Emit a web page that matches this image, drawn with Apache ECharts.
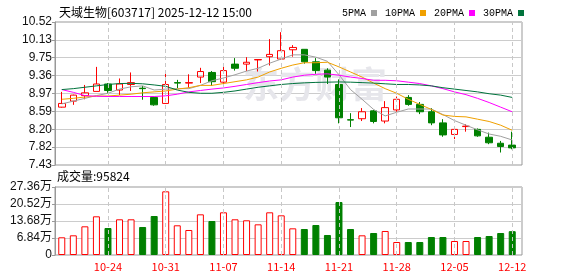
<!DOCTYPE html>
<html><head><meta charset="utf-8">
<script src="https://cdn.jsdelivr.net/npm/echarts@6/dist/echarts.min.js"></script>
<style>html,body{margin:0;padding:0;background:#fff}#c{width:578px;height:276px}</style>
</head><body><div id="c"></div>
<script>
const dates = ['10-20','10-21','10-22','10-23','10-24','10-27','10-28','10-29','10-30','10-31',
  '11-03','11-04','11-05','11-06','11-07','11-10','11-11','11-12','11-13','11-14',
  '11-17','11-18','11-19','11-20','11-21','11-24','11-25','11-26','11-27','11-28',
  '12-01','12-02','12-03','12-04','12-05','12-08','12-09','12-10','12-11','12-12'];
const opens  = [8.68,8.81,8.93,9.02,9.18,9.05,9.17,9.09,8.89,8.76, 9.21,9.20,9.33,9.43,9.22,9.61,9.61,9.70,9.77,9.72,
                9.92,9.93,9.66,9.48,9.17,8.41,8.43,8.60,8.38,8.62, 8.89,8.74,8.58,8.34,8.09,8.26,8.20,8.03,7.90,7.86];
const closes = [8.76,8.94,8.99,9.18,9.04,9.18,9.21,9.08,8.73,9.17, 9.20,9.21,9.45,9.23,9.47,9.52,9.65,9.71,9.82,9.90,
                9.97,9.66,9.47,9.33,8.45,8.40,8.58,8.37,8.67,8.85, 8.74,8.58,8.34,8.08,8.20,8.27,8.06,7.91,7.83,7.80];
const lows   = [8.67,8.73,8.85,9.02,8.99,8.94,9.03,8.84,8.71,8.76, 9.09,9.10,9.20,9.14,9.17,9.47,9.46,9.45,9.58,9.70,
                9.77,9.62,9.40,9.18,8.33,8.25,8.38,8.33,8.33,8.58, 8.71,8.53,8.29,8.04,7.99,8.15,8.04,7.88,7.70,7.77];
const highs  = [9.01,8.95,9.16,9.55,9.20,9.30,9.43,9.14,8.91,9.47, 9.27,9.39,9.53,9.46,9.59,9.74,9.76,9.72,10.15,10.30,
                10.02,9.93,9.74,9.52,9.28,8.55,8.66,8.62,8.81,8.91, 8.94,8.79,8.66,8.42,8.22,8.31,8.22,8.13,7.95,8.15];
const volumes = [71200,79200,115400,155600,108600,143600,143600,112700,156900,256200,
                 119500,100600,163600,136800,171700,143600,139600,123400,171700,159600,
                 107300,104600,120700,80500,213200,104600,79200,88500,96600,52300,
                 52300,52300,72400,72400,56300,56300,72400,76400,88500,95824];
const ma5  = [8.75,8.81,8.87,8.93,8.98,9.07,9.12,9.14,9.05,9.07, 9.08,9.08,9.15,9.25,9.31,9.38,9.46,9.52,9.63,9.72,
              9.81,9.81,9.76,9.67,9.38,9.06,8.85,8.63,8.49,8.57, 8.64,8.64,8.64,8.52,8.39,8.29,8.19,8.10,8.05,7.97];
const ma10 = [8.85,8.87,8.90,8.92,8.92,8.94,8.96,8.99,9.01,9.03, 9.07,9.10,9.15,9.15,9.19,9.23,9.27,9.33,9.44,9.52,
              9.59,9.64,9.64,9.65,9.55,9.44,9.33,9.20,9.08,8.98, 8.85,8.74,8.63,8.51,8.48,8.47,8.42,8.37,8.29,8.18];
const ma20 = [9.06,9.00,8.93,8.915,8.91,8.91,8.91,8.91,8.91,8.925, 8.96,9.01,9.04,9.07,9.095,9.13,9.17,9.21,9.245,9.27,
              9.33,9.37,9.39,9.40,9.37,9.33,9.30,9.26,9.26,9.25, 9.22,9.19,9.14,9.08,9.01,8.95,8.87,8.78,8.68,8.58];
const ma30 = [9.06,9.08,9.11,9.14,9.17,9.19,9.195,9.185,9.16,9.13, 9.05,9.00,8.98,8.98,9.00,9.03,9.07,9.11,9.14,9.17,
              9.19,9.205,9.215,9.22,9.225,9.22,9.21,9.20,9.185,9.17, 9.17,9.16,9.14,9.10,9.07,9.04,9.01,8.97,8.94,8.89];
const priceTicks = ['7.43','7.82','8.20','8.59','8.97','9.36','9.75','10.13','10.52'];
const volumeTicks = ['0','6.84万','13.68万','20.52万','27.36万'];
const labelDates = ['10-24','10-31','11-07','11-14','11-21','11-28','12-05','12-12'];
const maNames = ['5PMA','10PMA','20PMA','30PMA'];
const titleText = '天域生物[603717] 2025-12-12 15:00';
const volumeTitle = '成交量';

const pMin = 7.43, pMax = 10.52, pInt = (pMax - pMin) / 8;
const vMax = 273600, vInt = vMax / 4;
const RED = '#ff0000', GREEN = '#008000';
const maColors = ['#a0a0a0', '#f0a000', '#ff00ff', '#00733c'];
const maData = [ma5, ma10, ma20, ma30];

const chart = echarts.init(document.getElementById('c'), null, {renderer: 'canvas'});
const candleData = dates.map((d, i) => [opens[i], closes[i], lows[i], highs[i]]);
const volData = volumes.map((v, i) => {
  const up = i === 0 ? closes[i] >= opens[i] : closes[i] >= closes[i - 1];
  return {value: v, itemStyle: up ? {color: '#ffffff', borderColor: RED, borderWidth: 1} : {color: GREEN, borderColor: GREEN, borderWidth: 1}};
});
const vLines = {
  symbol: ['none', 'none'], silent: true, animation: false,
  label: {show: false},
  lineStyle: {color: '#c8c8c8', type: [4, 3], width: 1},
  emphasis: {disabled: true},
  data: labelDates.map(d => ({xAxis: d}))
};
const axisFont = '"Liberation Sans", "Noto Sans CJK SC", sans-serif';

chart.setOption({
  animation: false,
  backgroundColor: '#ffffff',
  title: {
    text: titleText, left: 54, top: 1,
    textStyle: {fontSize: 12, fontWeight: 'normal', color: '#000', fontFamily: '"Noto Sans CJK SC", sans-serif'}
  },
  legend: {
    data: maNames, left: 337, top: 3, icon: 'rect', itemWidth: 6, itemHeight: 6, itemGap: 8,
    align: 'right', selectedMode: false,
    textStyle: {fontSize: 10, color: '#000', fontFamily: '"Liberation Mono", monospace'}
  },
  graphic: [
    {type: 'text', left: 243, top: 66, z: 1, silent: true,
     style: {text: '东方财富', font: 'bold 36px "Noto Sans CJK SC"', fill: '#e6e6eb'}},
    {type: 'text', left: 57, top: 170, silent: true,
     style: {text: volumeTitle + ':' + volumes[volumes.length - 1], font: '12px "Noto Sans CJK SC"', fill: '#000'}}
  ],
  grid: [
    {left: 56, top: 22, width: 462, height: 143},
    {left: 56, top: 187, width: 462, height: 68},
    {left: 55, top: 22, width: 467, height: 143, show: true, borderColor: '#999', borderWidth: 1, backgroundColor: 'transparent'},
    {left: 55, top: 187, width: 467, height: 68, show: true, borderColor: '#999', borderWidth: 1, backgroundColor: 'transparent'}
  ],
  xAxis: [
    {type: 'category', gridIndex: 0, data: dates, boundaryGap: true,
     axisLine: {show: false}, axisTick: {show: false}, axisLabel: {show: false}, splitLine: {show: false}},
    {type: 'category', gridIndex: 1, data: dates, boundaryGap: true,
     axisLine: {show: false}, axisTick: {show: false}, splitLine: {show: false},
     axisLabel: {interval: (i) => labelDates.indexOf(dates[i]) >= 0, color: RED, fontSize: 11, margin: 6,
                 fontFamily: '"Noto Sans CJK SC", sans-serif'}},
    {type: 'value', gridIndex: 2, min: 0, max: 1, show: false},
    {type: 'value', gridIndex: 3, min: 0, max: 1, show: false}
  ],
  yAxis: [
    {type: 'value', gridIndex: 0, min: pMin, max: pMax, show: false, splitLine: {show: false}},
    {type: 'value', gridIndex: 1, min: 0, max: vMax, show: false, splitLine: {show: false}},
    {type: 'value', gridIndex: 2, min: pMin, max: pMax, interval: pInt,
     axisLine: {show: true, lineStyle: {color: '#999'}},
     axisTick: {show: true, length: 3, lineStyle: {color: '#999'}},
     splitLine: {show: true, lineStyle: {color: '#cccccc', width: 1}},
     axisLabel: {margin: 3, fontSize: 12, color: '#111', fontFamily: axisFont,
                 formatter: (v) => priceTicks[Math.round((v - pMin) / pInt)]}},
    {type: 'value', gridIndex: 3, min: 0, max: vMax, interval: vInt,
     axisLine: {show: true, lineStyle: {color: '#999'}},
     axisTick: {show: true, length: 3, lineStyle: {color: '#999'}},
     splitLine: {show: true, lineStyle: {color: '#cccccc', width: 1}},
     axisLabel: {margin: 3, fontSize: 12, color: '#111', fontFamily: axisFont,
                 formatter: (v) => volumeTicks[Math.round(v / vInt)]}}
  ],
  series: [
    {type: 'candlestick', name: 'K', xAxisIndex: 0, yAxisIndex: 0, data: candleData, barWidth: 7, z: 3,
     itemStyle: {color: 'transparent', color0: GREEN, borderColor: RED, borderColor0: GREEN, borderWidth: 1},
     markLine: vLines},
    ...maNames.map((n, k) => ({
      type: 'line', name: n, xAxisIndex: 0, yAxisIndex: 0, data: maData[k], symbol: 'none', z: 4,
      color: maColors[k], lineStyle: {width: 1, color: maColors[k]}
    })),
    {type: 'bar', name: 'VOL', xAxisIndex: 1, yAxisIndex: 1, data: volData, barWidth: 7, z: 3,
     markLine: vLines}
  ]
});
</script></body></html>
